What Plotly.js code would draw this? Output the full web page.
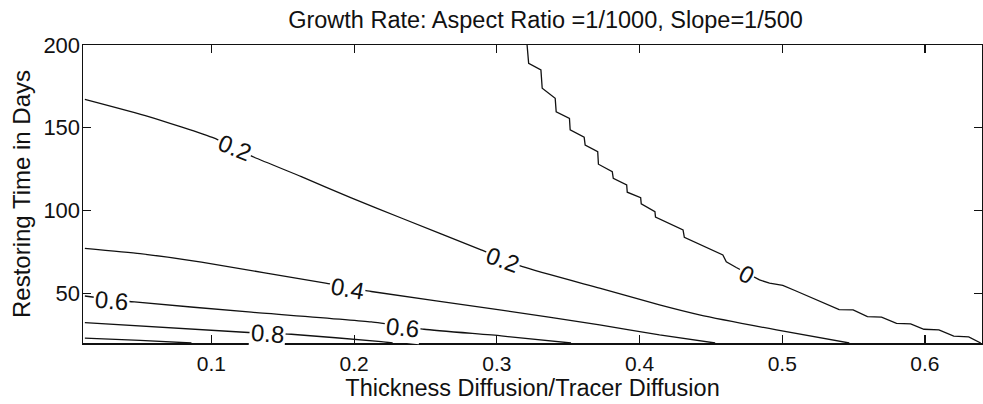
<!DOCTYPE html>
<html>
<head>
<meta charset="utf-8">
<script src="https://cdn.plot.ly/plotly-3.0.1.min.js"></script>
<style>html,body{margin:0;padding:0;background:#fff;}#chart{width:983px;height:404px;}</style>
</head>
<body>
<div id="chart"></div>
<script>
// Contour lines (x = thickness/tracer diffusion, y = restoring time in days)
const c02x = [0.0113, 0.056, 0.102, 0.130, 0.163, 0.198, 0.233, 0.289, 0.318, 0.372, 0.414, 0.442, 0.496, 0.547];
const c02y = [167.2, 156.8, 143.7, 132.2, 120.5, 107.6, 95.5, 76.2, 66.1, 53.1, 43.0, 37.0, 27.9, 20.0];

const c04x = [0.0113, 0.050, 0.093, 0.180, 0.212, 0.302, 0.372, 0.414, 0.453];
const c04y = [77.2, 74.0, 68.8, 56.1, 51.1, 40.0, 31.0, 24.9, 20.0];

const c06x = [0.0113, 0.046, 0.128, 0.212, 0.249, 0.303, 0.352];
const c06y = [48.4, 44.8, 38.6, 32.7, 28.3, 24.3, 20.0];

const c08x = [0.0113, 0.123, 0.156, 0.219, 0.227];
const c08y = [32.3, 26.5, 25.3, 20.8, 20.0];

const c10x = [0.0113, 0.050, 0.086];
const c10y = [22.9, 21.6, 20.0];

const c00x = [0.3212, 0.3223, 0.3309, 0.3318, 0.3409, 0.3416, 0.3509, 0.3514, 0.3612, 0.3619,
              0.3707, 0.3712, 0.3809, 0.3816, 0.3910, 0.3914, 0.4008, 0.4012, 0.4108, 0.4112,
              0.4305, 0.4314, 0.4584, 0.4608, 0.4678, 0.4841, 0.4911, 0.5004, 0.5097, 0.5399,
              0.5497, 0.5597, 0.5696, 0.5801, 0.5900, 0.5993, 0.6098, 0.6202, 0.6307, 0.6391];
const c00y = [200.0, 188.9, 184.9, 173.9, 167.8, 159.7, 155.7, 148.7, 144.3, 139.6,
              135.6, 128.0, 123.5, 119.5, 115.5, 111.1, 107.8, 104.0, 99.3, 96.0,
              88.3, 83.8, 73.2, 69.1, 65.6, 58.1, 56.1, 54.8, 51.4, 40.2,
              40.0, 35.9, 35.6, 31.9, 31.5, 28.3, 27.9, 24.1, 23.7, 20.0];

// Contour labels
const labelText = ['0.2', '0.2', '0.4', '0.6', '0.6', '0.8', '0'];
const labelX = [0.116, 0.3037, 0.1954, 0.030, 0.2339, 0.1396, 0.4752];
const labelY = [137.8, 70.2, 53.1, 45.6, 29.5, 25.5, 61.5];
const labelAngle = [22, 20, 10, 5, 6, 4, 28];

const xTicks = [0.1, 0.2, 0.3, 0.4, 0.5, 0.6];
const yTicks = [50, 100, 150, 200];

const FONT = 'Liberation Sans, Arial, sans-serif';
const smooth = {color: '#111', width: 1.3, shape: 'spline', smoothing: 0.5};
const stairs = {color: '#111', width: 1.3, shape: 'linear'};
const series = [[c02x, c02y, smooth], [c04x, c04y, smooth], [c06x, c06y, smooth],
                [c08x, c08y, smooth], [c10x, c10y, smooth], [c00x, c00y, stairs]];
const traces = series.map(s => ({
  x: s[0], y: s[1], type: 'scatter', mode: 'lines', line: s[2],
  hoverinfo: 'skip', showlegend: false, cliponaxis: true
}));

const annotations = labelText.map((t, i) => ({
  x: labelX[i], y: labelY[i], xref: 'x', yref: 'y', text: t, showarrow: false,
  textangle: labelAngle[i], font: {family: FONT, size: 24, color: '#111'},
  bgcolor: '#fff', borderpad: 1, xanchor: 'center', yanchor: 'middle'
}));

const layout = {
  width: 983, height: 404,
  margin: {l: 83, r: 1, t: 45, b: 61, pad: 0},
  paper_bgcolor: '#fff', plot_bgcolor: '#fff',
  font: {family: FONT, size: 22, color: '#111'},
  title: {text: 'Growth Rate: Aspect Ratio =1/1000, Slope=1/500', x: 0.555, xanchor: 'center',
          y: 0.95, yanchor: 'middle', font: {family: FONT, size: 23.5, color: '#111'}},
  xaxis: {
    range: [0.01, 0.64], tickvals: xTicks, ticktext: xTicks.map(v => v.toFixed(1)),
    ticks: 'inside', ticklen: 8, tickwidth: 1.2, tickcolor: '#111',
    tickfont: {family: FONT, size: 21, color: '#111'},
    showline: true, linecolor: '#111', linewidth: 1.5, mirror: 'ticks',
    showgrid: false, zeroline: false, ticklabelstandoff: 1,
    title: {text: 'Thickness Diffusion/Tracer Diffusion', standoff: 0, font: {family: FONT, size: 23.5, color: '#111'}}
  },
  yaxis: {
    range: [20, 200], tickvals: yTicks, ticktext: yTicks.map(String),
    ticks: 'inside', ticklen: 8, tickwidth: 1.2, tickcolor: '#111',
    tickfont: {family: FONT, size: 22, color: '#111'},
    showline: true, linecolor: '#111', linewidth: 1.5, mirror: 'ticks',
    showgrid: false, zeroline: false, ticklabelstandoff: -3,
    title: {text: 'Restoring Time in Days', standoff: 6, font: {family: FONT, size: 24, color: '#111'}}
  },
  annotations: annotations
};

Plotly.newPlot('chart', traces, layout, {staticPlot: true, displayModeBar: false});
</script>
</body>
</html>
